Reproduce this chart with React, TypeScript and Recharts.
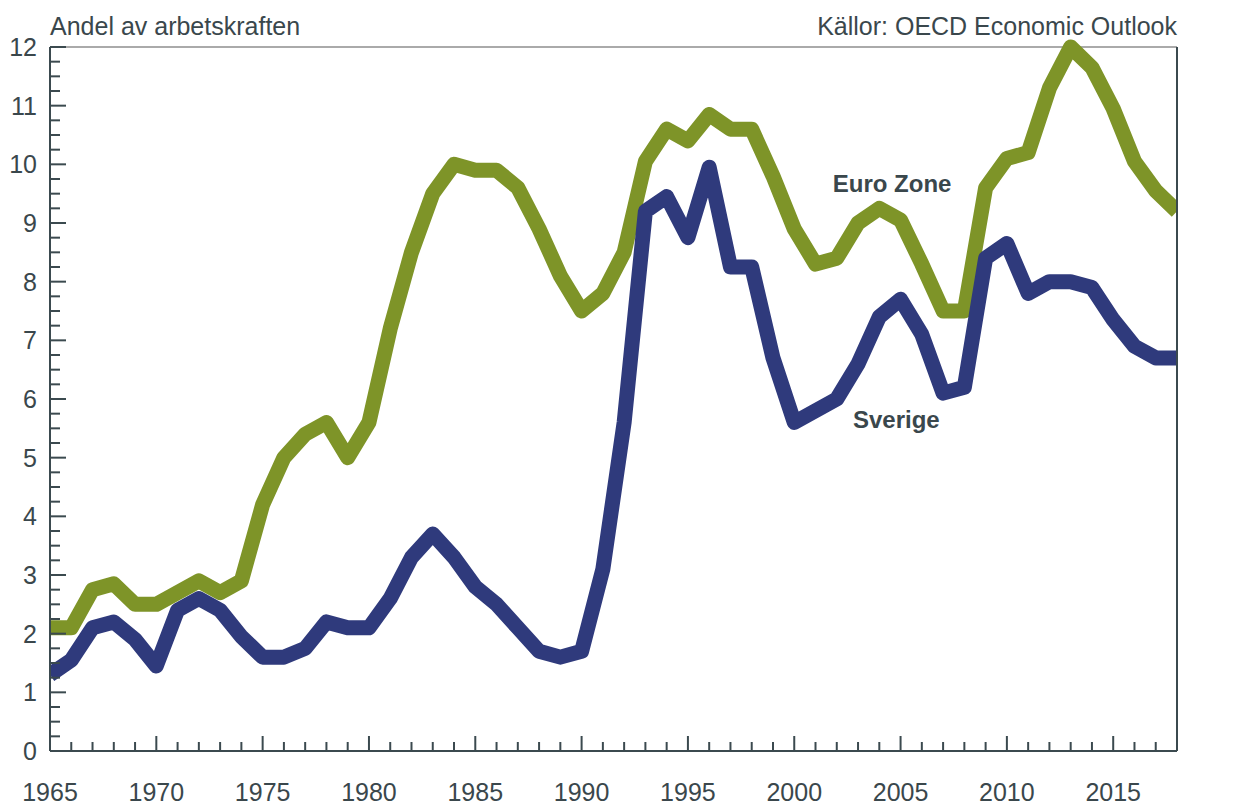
import React from 'react'
import {
  LineChart,
  Line,
  XAxis,
  YAxis,
  CartesianGrid,
  ReferenceDot,
} from 'recharts'

const years = [
  1965, 1966, 1967, 1968, 1969, 1970, 1971, 1972, 1973, 1974, 1975, 1976, 1977, 1978,
  1979, 1980, 1981, 1982, 1983, 1984, 1985, 1986, 1987, 1988, 1989, 1990, 1991, 1992,
  1993, 1994, 1995, 1996, 1997, 1998, 1999, 2000, 2001, 2002, 2003, 2004, 2005, 2006,
  2007, 2008, 2009, 2010, 2011, 2012, 2013, 2014, 2015, 2016, 2017, 2018,
]

const sverige = [
  1.3, 1.55, 2.1, 2.2, 1.9, 1.45, 2.4, 2.6, 2.4, 1.95, 1.6, 1.6, 1.75, 2.2,
  2.1, 2.1, 2.6, 3.3, 3.7, 3.3, 2.8, 2.5, 2.1, 1.7, 1.6, 1.7, 3.1, 5.6,
  9.2, 9.45, 8.75, 9.95, 8.25, 8.25, 6.7, 5.6, 5.8, 6.0, 6.6, 7.4, 7.7, 7.1,
  6.1, 6.2, 8.4, 8.65, 7.8, 8.0, 8.0, 7.9, 7.35, 6.9, 6.7, 6.7,
]

const euroZone = [
  2.1, 2.1, 2.75, 2.85, 2.5, 2.5, 2.7, 2.9, 2.7, 2.9, 4.2, 5.0, 5.4, 5.6,
  5.0, 5.6, 7.2, 8.5, 9.5, 10.0, 9.9, 9.9, 9.6, 8.9, 8.1, 7.5, 7.8, 8.5,
  10.05, 10.6, 10.4, 10.85, 10.6, 10.6, 9.8, 8.9, 8.3, 8.4, 9.0, 9.25, 9.05, 8.3,
  7.5, 7.5, 9.6, 10.1, 10.2, 11.3, 12.0, 11.65, 10.95, 10.05, 9.55, 9.2,
]

const xTicks = years
const xLabelYears = [1965, 1970, 1975, 1980, 1985, 1990, 1995, 2000, 2005, 2010, 2015]
const yTicks = Array.from({ length: 49 }, (_, i) => i * 0.25)
const gridValues = [1, 2, 3, 4, 5, 6, 7, 8, 9, 10, 11, 12]

const data = years.map((year, i) => ({
  year,
  sverige: sverige[i],
  euroZone: euroZone[i],
}))

const TEXT = '#3a474c'
const AXIS = '#3b4a4f'
const GRID = '#8e8e8e'
const GREEN = '#7e9428'
const BLUE = '#2f3a7c'
const FONT = '"Liberation Sans", Arial, sans-serif'

// x ticks point up into the plot, label every fifth year
const XTick = (props: any) => {
  const { x, y, payload } = props
  const major = xLabelYears.includes(payload.value)
  return (
    <g>
      <line x1={x} x2={x} y1={y} y2={y - (major ? 15 : 9)} stroke={AXIS} strokeWidth={2} />
      {major && (
        <text x={x} y={y + 50} textAnchor="middle" fill={TEXT} fontSize={25} fontFamily={FONT}>
          {payload.value}
        </text>
      )}
    </g>
  )
}

const YTickLeft = (props: any) => {
  const { x, y, payload } = props
  const major = Number.isInteger(payload.value)
  return (
    <g>
      <line x1={x} x2={x + (major ? 16 : 10)} y1={y} y2={y} stroke={AXIS} strokeWidth={2} />
      {major && (
        <text x={x - 13} y={y + 9} textAnchor="end" fill={TEXT} fontSize={25} fontFamily={FONT}>
          {payload.value}
        </text>
      )}
    </g>
  )
}

const YTickRight = (props: any) => {
  const { x, y, payload } = props
  const major = Number.isInteger(payload.value)
  return (
    <g>
      <line x1={x} x2={x - (major ? 16 : 10)} y1={y} y2={y} stroke={AXIS} strokeWidth={2} />
      {major && (
        <text x={x + 13} y={y + 9} textAnchor="start" fill={TEXT} fontSize={25} fontFamily={FONT}>
          {payload.value}
        </text>
      )}
    </g>
  )
}

const seriesLabel = (text: string) => (props: any) => {
  const { viewBox } = props
  const cx = viewBox.x + (viewBox.width || 0) / 2
  const cy = viewBox.y + (viewBox.height || 0) / 2
  return (
    <text
      x={cx}
      y={cy + 9}
      textAnchor="middle"
      fill={TEXT}
      fontSize={24}
      fontWeight="bold"
      fontFamily={FONT}
    >
      {text}
    </text>
  )
}

const titleStyle: React.CSSProperties = {
  position: 'absolute',
  top: 14,
  fontFamily: FONT,
  fontSize: 25,
  lineHeight: '25px',
  color: TEXT,
  whiteSpace: 'nowrap',
}

export default function App() {
  return (
    <div style={{ position: 'absolute', left: 0, top: 0, width: 1237, height: 805, background: '#fff' }}>
      <div style={{ ...titleStyle, left: 50 }}>Andel av arbetskraften</div>
      <div style={{ ...titleStyle, right: 1237 - 1177 }}>Källor: OECD Economic Outlook</div>
      <LineChart
        width={1237}
        height={805}
        data={data}
        margin={{ top: 47, right: 20, left: 10, bottom: 24 }}
      >
        <CartesianGrid yAxisId="grid" vertical={false} stroke={GRID} strokeWidth={1.5} />
        <XAxis
          dataKey="year"
          type="number"
          domain={[1965, 2018]}
          ticks={xTicks}
          interval={0}
          height={30}
          tickSize={0}
          tickMargin={0}
          tickLine={false}
          axisLine={{ stroke: AXIS, strokeWidth: 2 }}
          tick={<XTick />}
          allowDataOverflow
        />
        {/* hidden axis only used for the integer gridlines */}
        <YAxis
          yAxisId="grid"
          orientation="left"
          domain={[0, 12]}
          ticks={gridValues}
          interval={0}
          width={0}
          tick={false}
          tickLine={false}
          axisLine={false}
        />
        <YAxis
          yAxisId="left"
          orientation="left"
          domain={[0, 12]}
          ticks={yTicks}
          interval={0}
          width={40}
          tickSize={0}
          tickMargin={0}
          tickLine={false}
          axisLine={{ stroke: AXIS, strokeWidth: 2 }}
          tick={<YTickLeft />}
        />
        <YAxis
          yAxisId="right"
          orientation="right"
          domain={[0, 12]}
          ticks={yTicks}
          interval={0}
          width={40}
          tickSize={0}
          tickMargin={0}
          tickLine={false}
          axisLine={{ stroke: AXIS, strokeWidth: 2 }}
          tick={<YTickRight />}
        />
        <Line
          yAxisId="left"
          type="linear"
          dataKey="euroZone"
          stroke={GREEN}
          strokeWidth={15}
          strokeLinejoin="round"
          strokeLinecap="butt"
          dot={false}
          isAnimationActive={false}
        />
        <Line
          yAxisId="left"
          type="linear"
          dataKey="sverige"
          stroke={BLUE}
          strokeWidth={15}
          strokeLinejoin="round"
          strokeLinecap="butt"
          dot={false}
          isAnimationActive={false}
        />
        <ReferenceDot
          yAxisId="left"
          x={2004.6}
          y={9.68}
          r={0}
          fill="none"
          stroke="none"
          label={seriesLabel('Euro Zone')}
        />
        <ReferenceDot
          yAxisId="left"
          x={2004.8}
          y={5.66}
          r={0}
          fill="none"
          stroke="none"
          label={seriesLabel('Sverige')}
        />
      </LineChart>
    </div>
  )
}
